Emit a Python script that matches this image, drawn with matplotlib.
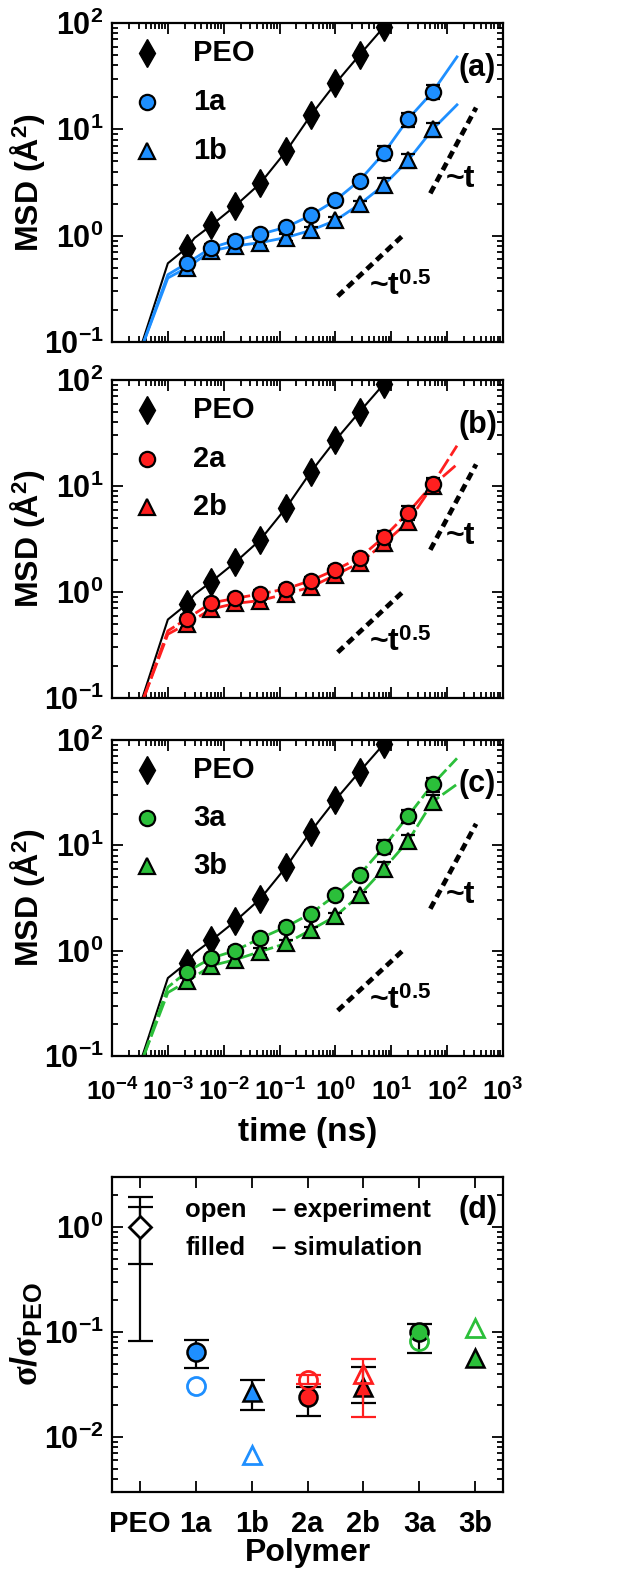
#!/usr/bin/env python3
"""MSD vs time for PEO and polymers 1-3, plus relative conductivity panel."""

import matplotlib
matplotlib.use("Agg")
import matplotlib.pyplot as plt
from matplotlib.ticker import LogLocator, NullFormatter

plt.rcParams["font.family"] = ["Liberation Sans", "DejaVu Sans"]
plt.rcParams["font.weight"] = "bold"
plt.rcParams["mathtext.fontset"] = "custom"
plt.rcParams["mathtext.rm"] = "Liberation Sans:bold"
plt.rcParams["mathtext.bf"] = "Liberation Sans:bold"
plt.rcParams["mathtext.it"] = "Liberation Serif"

BLUE = "#1e8fff"
RED = "#ff1f1f"
GREEN = "#2bbf3a"

# ---- MSD data ----
t_pts = [0.0022, 0.006, 0.016, 0.045, 0.13, 0.36, 1.0, 2.7, 7.4, 20, 55]

peo_msd = [0.77, 1.25, 1.9, 3.1, 6.2, 13.5, 27, 50, 92]
peo_line_t = [3.5e-4, 1e-3, 0.0022, 0.003, 0.006, 0.016, 0.045, 0.13, 0.36, 1.0, 2.7, 7.4, 10]
peo_line_y = [0.1, 0.55, 0.77, 0.95, 1.25, 1.9, 3.1, 6.2, 13.5, 27, 50, 92, 115]

msd_1a = [0.55, 0.77, 0.90, 1.03, 1.2, 1.55, 2.15, 3.3, 6.0, 12.5, 22.5]
msd_1b = [0.50, 0.72, 0.80, 0.86, 0.96, 1.12, 1.39, 1.97, 3.0, 5.1, 10]
msd_2a = [0.56, 0.79, 0.87, 0.96, 1.07, 1.28, 1.62, 2.1, 3.3, 5.6, 10.4]
msd_2b = [0.50, 0.69, 0.78, 0.83, 0.96, 1.11, 1.45, 1.88, 2.87, 4.6, 10.1]
msd_3a = [0.63, 0.85, 1.0, 1.31, 1.68, 2.25, 3.35, 5.25, 9.7, 19, 38]
msd_3b = [0.51, 0.72, 0.82, 0.98, 1.17, 1.57, 2.12, 3.36, 6.0, 11, 26]

# simulation curve start / end values (early knee and long-time tail)
line_t_head = [3.7e-4, 1e-3]
line_t_tail = [150]
head_1a, tail_1a = [0.1, 0.43], [48]
head_1b, tail_1b = [0.1, 0.40], [17]
head_2a, tail_2a = [0.1, 0.43], [24]
head_2b, tail_2b = [0.1, 0.40], [16]
head_3a, tail_3a = [0.1, 0.45], [67]
head_3b, tail_3b = [0.1, 0.40], [38]

# guide lines
slope1_t = [50, 330]
slope1_y = [2.5, 16]
slope05_t = [1.1, 16]
slope05_y = [0.27, 1.0]

# ---- panel (d) data ----
polymers = ["PEO", "1a", "1b", "2a", "2b", "3a", "3b"]
d_colors = ["black", BLUE, BLUE, RED, RED, GREEN, GREEN]
d_markers = ["D", "o", "^", "o", "^", "o", "^"]
sim_val = [None, 0.065, 0.027, 0.024, 0.030, 0.10, 0.057]
sim_lo = [None, 0.046, 0.018, 0.016, 0.021, 0.063, None]
sim_hi = [None, 0.085, 0.035, 0.030, 0.047, 0.12, None]
exp_val = [1.0, 0.031, 0.0068, 0.035, 0.040, 0.083, 0.11]
exp_lo = [0.45, None, None, 0.032, 0.0155, None, None]
exp_hi = [1.93, None, None, 0.039, 0.056, None, None]
peo_err2 = [0.083, 1.55]

W, H = 636, 1579
fig = plt.figure(figsize=(W / 100, H / 100), dpi=100)


def px_axes(top, bottom, left=112, right=503):
    return fig.add_axes([left / W, 1 - bottom / H, (right - left) / W, (bottom - top) / H])


def style_axes(ax):
    for s in ax.spines.values():
        s.set_linewidth(1.6)
    ax.tick_params(which="both", direction="in", top=True, right=True, width=1.3)
    ax.tick_params(which="major", length=8, labelsize=22, pad=6)
    ax.tick_params(which="minor", length=4)
    ax.yaxis.set_major_locator(LogLocator(base=10, numticks=20))
    ax.yaxis.set_minor_locator(LogLocator(base=10, subs=range(2, 10), numticks=20))
    ax.yaxis.set_minor_formatter(NullFormatter())


def msd_panel(ax, color, vals_a, vals_b, head_a, tail_a, head_b, tail_b, labels, tag, ls, show_x):
    ax.set_xscale("log")
    ax.set_yscale("log")
    ax.set_xlim(1e-4, 1e3)
    ax.set_ylim(0.1, 100)
    style_axes(ax)
    ax.xaxis.set_major_locator(LogLocator(base=10, numticks=20))
    ax.xaxis.set_minor_locator(LogLocator(base=10, subs=range(2, 10), numticks=20))
    ax.xaxis.set_minor_formatter(NullFormatter())
    # simulation curves
    ax.plot(peo_line_t, peo_line_y, color="black", lw=1.5, zorder=2)
    ax.plot(line_t_head + t_pts + line_t_tail, head_a + vals_a + tail_a, color=color, lw=2.0, ls=ls, zorder=2)
    ax.plot(line_t_head + t_pts + line_t_tail, head_b + vals_b + tail_b, color=color, lw=2.0, ls=ls, zorder=2)
    # experimental points with error bars
    n = len(peo_msd)
    ax.errorbar(t_pts[:n], peo_msd, yerr=[[v * 0.08 for v in peo_msd], [v * 0.08 for v in peo_msd]],
                fmt="d", color="black", mfc="black", mec="black", ms=14, capsize=4, elinewidth=1.3, zorder=4)
    for vals, mk in ((vals_b, "^"), (vals_a, "o")):
        err = [v * (0.08 if t < 5 else 0.15) for v, t in zip(vals, t_pts)]
        ax.errorbar(t_pts, vals, yerr=err, fmt=mk, ms=11, mfc=color, mec="black", mew=1.6,
                    ecolor="black", elinewidth=1.3, capsize=5, zorder=5)
    # guides
    ax.plot(slope1_t, slope1_y, color="black", lw=3.4, ls=(0, (1.7, 1.1)), zorder=3)
    ax.plot(slope05_t, slope05_y, color="black", lw=3.4, ls=(0, (1.7, 1.1)), zorder=3)
    ax.text(95, 3.4, "~t", fontsize=23, fontweight="bold", va="center", ha="left")
    ax.text(4.0, 0.33, r"~t$^{0.5}$", fontsize=23, fontweight="bold", va="center", ha="left")
    # legend
    rows = [0.905, 0.752, 0.600]
    ax.plot([0.09], [rows[0]], "d", transform=ax.transAxes, color="black", ms=14)
    ax.plot([0.09], [rows[1]], "o", transform=ax.transAxes, mfc=color, mec="black", mew=1.6, ms=11)
    ax.plot([0.09], [rows[2]], "^", transform=ax.transAxes, mfc=color, mec="black", mew=1.6, ms=11)
    for r, lab in zip(rows, ["PEO"] + labels):
        ax.text(0.207, r, lab, transform=ax.transAxes, fontsize=21, fontweight="bold", va="center")
    ax.text(0.935, 0.86, tag, transform=ax.transAxes, fontsize=22, fontweight="bold", ha="center", va="center")
    ax.set_ylabel("MSD (Å$^{2}$)", fontsize=23, fontweight="bold")
    ax.yaxis.set_label_coords(-0.165, 0.5)
    if show_x:
        ax.set_xlabel("time (ns)", fontsize=24, fontweight="bold", labelpad=8)
        ax.tick_params(axis="x", which="major", pad=16, labelsize=19)
    else:
        ax.tick_params(axis="x", labelbottom=False)


ax_a = px_axes(23, 342)
msd_panel(ax_a, BLUE, msd_1a, msd_1b, head_1a, tail_1a, head_1b, tail_1b, ["1a", "1b"], "(a)", "-", False)
ax_b = px_axes(380, 698)
msd_panel(ax_b, RED, msd_2a, msd_2b, head_2a, tail_2a, head_2b, tail_2b, ["2a", "2b"], "(b)", (0, (6, 1.5)), False)
ax_c = px_axes(740, 1056)
msd_panel(ax_c, GREEN, msd_3a, msd_3b, head_3a, tail_3a, head_3b, tail_3b, ["3a", "3b"], "(c)", (0, (6, 1.5)), True)

# ---- panel (d) ----
ax_d = px_axes(1177, 1492)
ax_d.set_yscale("log")
ax_d.set_ylim(0.003, 3)
ax_d.set_xlim(0.5, 7.5)
style_axes(ax_d)
xs = list(range(1, len(polymers) + 1))
ax_d.set_xticks(xs)
ax_d.set_xticklabels(polymers)
ax_d.tick_params(axis="x", which="minor", bottom=False, top=False)
ax_d.tick_params(axis="x", which="major", pad=13, labelsize=21)

# PEO second error bar
ax_d.errorbar([xs[0]], [exp_val[0]], yerr=[[exp_val[0] - peo_err2[0]], [peo_err2[1] - exp_val[0]]],
              fmt="none", ecolor="black", elinewidth=1.6, capsize=9, capthick=1.6, zorder=3)
for i, x in enumerate(xs):
    c, mk = d_colors[i], d_markers[i]
    ms = 13 if mk != "D" else 11
    if sim_val[i] is not None:
        if sim_lo[i] is not None:
            ax_d.errorbar([x], [sim_val[i]], yerr=[[sim_val[i] - sim_lo[i]], [sim_hi[i] - sim_val[i]]],
                          fmt="none", ecolor="black", elinewidth=1.6, capsize=9, capthick=1.6, zorder=3)
        ax_d.plot([x], [sim_val[i]], mk, mfc=c, mec="black", mew=1.8, ms=ms, zorder=4)
    if exp_lo[i] is not None:
        ax_d.errorbar([x], [exp_val[i]], yerr=[[exp_val[i] - exp_lo[i]], [exp_hi[i] - exp_val[i]]],
                      fmt="none", ecolor=c, elinewidth=1.6, capsize=9, capthick=1.6, zorder=5)
    ax_d.plot([x], [exp_val[i]], mk, mfc="white" if mk == "D" else "none", mec=c, mew=2.0, ms=ms, zorder=6)

ax_d.text(0.187, 0.895, "open", transform=ax_d.transAxes, fontsize=18.5, fontweight="bold", va="center")
ax_d.text(0.41, 0.895, "– experiment", transform=ax_d.transAxes, fontsize=18.5, fontweight="bold", va="center")
ax_d.text(0.187, 0.775, "filled", transform=ax_d.transAxes, fontsize=18.5, fontweight="bold", va="center")
ax_d.text(0.41, 0.775, "– simulation", transform=ax_d.transAxes, fontsize=18.5, fontweight="bold", va="center")
ax_d.text(0.935, 0.895, "(d)", transform=ax_d.transAxes, fontsize=22, fontweight="bold", ha="center", va="center")
ax_d.set_xlabel("Polymer", fontsize=23, fontweight="bold", labelpad=0)
ax_d.set_ylabel(r"$\mathit{\sigma}/\mathit{\sigma}_{\mathbf{PEO}}$", fontsize=26)
ax_d.yaxis.set_label_coords(-0.17, 0.5)

fig.savefig("out.png", dpi=100)
